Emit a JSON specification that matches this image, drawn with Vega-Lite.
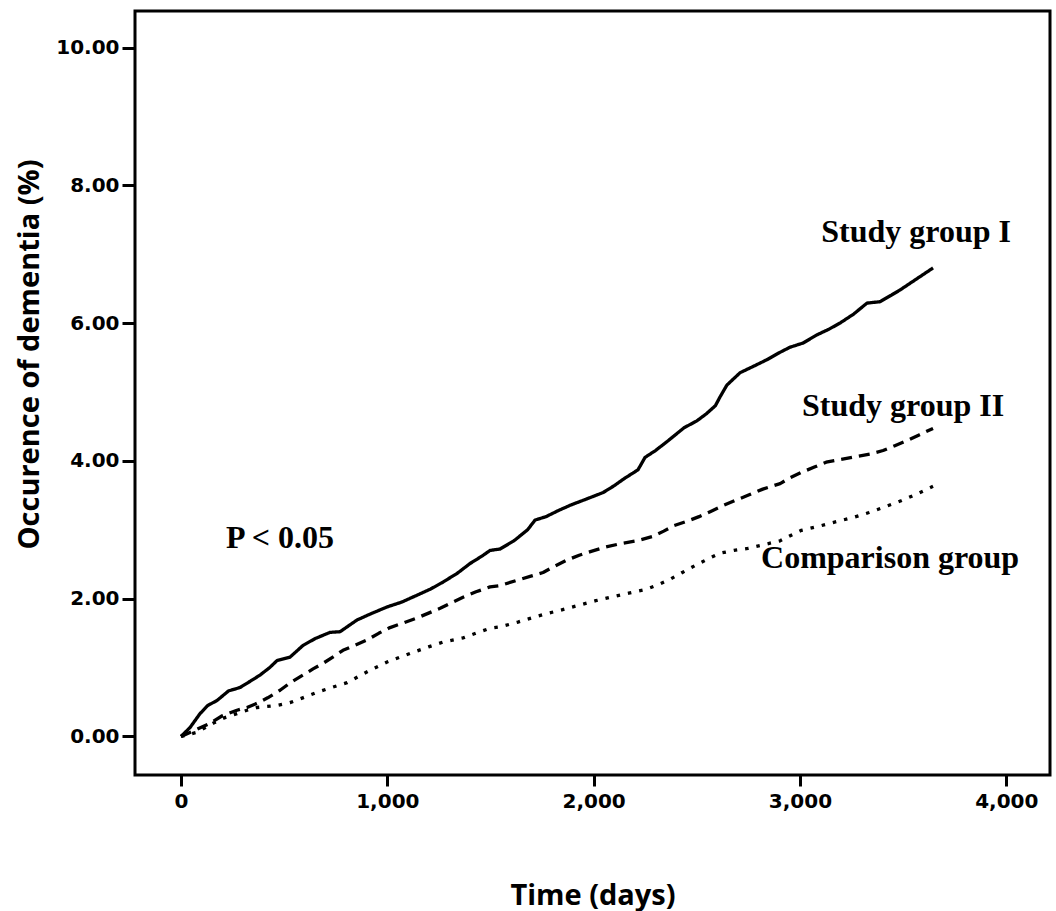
{
  "$schema": "https://vega.github.io/schema/vega-lite/v6.json",
  "width": 915,
  "height": 764,
  "autosize": {"type": "none"},
  "padding": {"left": 135, "top": 11, "right": 6, "bottom": 136},
  "background": "white",
  "config": {
    "view": {"stroke": "black", "strokeWidth": 3},
    "axis": {"grid": false, "domain": false, "tickColor": "black", "tickWidth": 3, "labelColor": "black", "titleColor": "black", "labelFont": "DejaVu Sans", "labelFontWeight": "bold", "labelFontSize": 20, "titleFont": "Open Sans", "titleFontWeight": "bold", "titleFontSize": 29}
  },
  "layer": [
    {
      "data": {"values": [
        {"group": "Study group I", "day": 0, "pct": 0},
        {"group": "Study group I", "day": 44, "pct": 0.13},
        {"group": "Study group I", "day": 92, "pct": 0.33},
        {"group": "Study group I", "day": 130, "pct": 0.45},
        {"group": "Study group I", "day": 174, "pct": 0.52},
        {"group": "Study group I", "day": 230, "pct": 0.66},
        {"group": "Study group I", "day": 286, "pct": 0.71},
        {"group": "Study group I", "day": 335, "pct": 0.8},
        {"group": "Study group I", "day": 383, "pct": 0.89},
        {"group": "Study group I", "day": 430, "pct": 1.0},
        {"group": "Study group I", "day": 465, "pct": 1.1},
        {"group": "Study group I", "day": 528, "pct": 1.15},
        {"group": "Study group I", "day": 591, "pct": 1.32},
        {"group": "Study group I", "day": 650, "pct": 1.42},
        {"group": "Study group I", "day": 722, "pct": 1.51},
        {"group": "Study group I", "day": 771, "pct": 1.52},
        {"group": "Study group I", "day": 853, "pct": 1.69},
        {"group": "Study group I", "day": 920, "pct": 1.78},
        {"group": "Study group I", "day": 999, "pct": 1.88},
        {"group": "Study group I", "day": 1070, "pct": 1.95},
        {"group": "Study group I", "day": 1144, "pct": 2.05},
        {"group": "Study group I", "day": 1210, "pct": 2.14},
        {"group": "Study group I", "day": 1270, "pct": 2.24},
        {"group": "Study group I", "day": 1340, "pct": 2.37},
        {"group": "Study group I", "day": 1401, "pct": 2.51},
        {"group": "Study group I", "day": 1460, "pct": 2.62},
        {"group": "Study group I", "day": 1498, "pct": 2.7},
        {"group": "Study group I", "day": 1546, "pct": 2.72},
        {"group": "Study group I", "day": 1614, "pct": 2.84},
        {"group": "Study group I", "day": 1680, "pct": 3.0},
        {"group": "Study group I", "day": 1716, "pct": 3.14},
        {"group": "Study group I", "day": 1769, "pct": 3.19},
        {"group": "Study group I", "day": 1830, "pct": 3.28},
        {"group": "Study group I", "day": 1890, "pct": 3.36},
        {"group": "Study group I", "day": 1960, "pct": 3.44},
        {"group": "Study group I", "day": 2046, "pct": 3.54},
        {"group": "Study group I", "day": 2100, "pct": 3.64},
        {"group": "Study group I", "day": 2147, "pct": 3.74},
        {"group": "Study group I", "day": 2215, "pct": 3.87},
        {"group": "Study group I", "day": 2249, "pct": 4.05},
        {"group": "Study group I", "day": 2300, "pct": 4.15},
        {"group": "Study group I", "day": 2356, "pct": 4.28},
        {"group": "Study group I", "day": 2438, "pct": 4.48},
        {"group": "Study group I", "day": 2500, "pct": 4.58},
        {"group": "Study group I", "day": 2545, "pct": 4.68},
        {"group": "Study group I", "day": 2590, "pct": 4.8},
        {"group": "Study group I", "day": 2613, "pct": 4.93},
        {"group": "Study group I", "day": 2646, "pct": 5.1},
        {"group": "Study group I", "day": 2710, "pct": 5.28},
        {"group": "Study group I", "day": 2780, "pct": 5.38},
        {"group": "Study group I", "day": 2841, "pct": 5.47},
        {"group": "Study group I", "day": 2900, "pct": 5.57},
        {"group": "Study group I", "day": 2952, "pct": 5.65},
        {"group": "Study group I", "day": 3015, "pct": 5.71},
        {"group": "Study group I", "day": 3083, "pct": 5.83},
        {"group": "Study group I", "day": 3140, "pct": 5.91},
        {"group": "Study group I", "day": 3194, "pct": 6.0},
        {"group": "Study group I", "day": 3260, "pct": 6.13},
        {"group": "Study group I", "day": 3325, "pct": 6.29},
        {"group": "Study group I", "day": 3388, "pct": 6.31},
        {"group": "Study group I", "day": 3440, "pct": 6.4},
        {"group": "Study group I", "day": 3485, "pct": 6.48},
        {"group": "Study group I", "day": 3560, "pct": 6.63},
        {"group": "Study group I", "day": 3645, "pct": 6.8},
        {"group": "Study group II", "day": 0, "pct": 0},
        {"group": "Study group II", "day": 60, "pct": 0.08},
        {"group": "Study group II", "day": 141, "pct": 0.19},
        {"group": "Study group II", "day": 200, "pct": 0.3},
        {"group": "Study group II", "day": 271, "pct": 0.38},
        {"group": "Study group II", "day": 320, "pct": 0.42},
        {"group": "Study group II", "day": 368, "pct": 0.48},
        {"group": "Study group II", "day": 420, "pct": 0.56},
        {"group": "Study group II", "day": 480, "pct": 0.67},
        {"group": "Study group II", "day": 530, "pct": 0.78},
        {"group": "Study group II", "day": 591, "pct": 0.89},
        {"group": "Study group II", "day": 640, "pct": 0.98},
        {"group": "Study group II", "day": 688, "pct": 1.06},
        {"group": "Study group II", "day": 740, "pct": 1.16},
        {"group": "Study group II", "day": 785, "pct": 1.25},
        {"group": "Study group II", "day": 840, "pct": 1.32},
        {"group": "Study group II", "day": 902, "pct": 1.4},
        {"group": "Study group II", "day": 960, "pct": 1.5},
        {"group": "Study group II", "day": 1013, "pct": 1.58},
        {"group": "Study group II", "day": 1080, "pct": 1.65},
        {"group": "Study group II", "day": 1144, "pct": 1.72},
        {"group": "Study group II", "day": 1200, "pct": 1.79},
        {"group": "Study group II", "day": 1256, "pct": 1.86},
        {"group": "Study group II", "day": 1310, "pct": 1.94},
        {"group": "Study group II", "day": 1367, "pct": 2.02},
        {"group": "Study group II", "day": 1430, "pct": 2.1},
        {"group": "Study group II", "day": 1498, "pct": 2.17},
        {"group": "Study group II", "day": 1546, "pct": 2.19},
        {"group": "Study group II", "day": 1633, "pct": 2.27},
        {"group": "Study group II", "day": 1700, "pct": 2.33},
        {"group": "Study group II", "day": 1755, "pct": 2.38},
        {"group": "Study group II", "day": 1810, "pct": 2.47},
        {"group": "Study group II", "day": 1871, "pct": 2.56},
        {"group": "Study group II", "day": 1930, "pct": 2.63},
        {"group": "Study group II", "day": 1992, "pct": 2.69},
        {"group": "Study group II", "day": 2060, "pct": 2.75},
        {"group": "Study group II", "day": 2133, "pct": 2.8},
        {"group": "Study group II", "day": 2210, "pct": 2.84},
        {"group": "Study group II", "day": 2283, "pct": 2.9},
        {"group": "Study group II", "day": 2340, "pct": 2.98},
        {"group": "Study group II", "day": 2390, "pct": 3.06},
        {"group": "Study group II", "day": 2450, "pct": 3.12},
        {"group": "Study group II", "day": 2511, "pct": 3.19},
        {"group": "Study group II", "day": 2570, "pct": 3.27},
        {"group": "Study group II", "day": 2627, "pct": 3.35},
        {"group": "Study group II", "day": 2690, "pct": 3.43},
        {"group": "Study group II", "day": 2748, "pct": 3.5},
        {"group": "Study group II", "day": 2820, "pct": 3.59},
        {"group": "Study group II", "day": 2904, "pct": 3.67},
        {"group": "Study group II", "day": 2950, "pct": 3.75},
        {"group": "Study group II", "day": 3005, "pct": 3.83},
        {"group": "Study group II", "day": 3070, "pct": 3.91},
        {"group": "Study group II", "day": 3127, "pct": 3.98},
        {"group": "Study group II", "day": 3200, "pct": 4.02},
        {"group": "Study group II", "day": 3267, "pct": 4.06},
        {"group": "Study group II", "day": 3340, "pct": 4.1},
        {"group": "Study group II", "day": 3403, "pct": 4.15},
        {"group": "Study group II", "day": 3460, "pct": 4.22},
        {"group": "Study group II", "day": 3524, "pct": 4.3},
        {"group": "Study group II", "day": 3580, "pct": 4.38},
        {"group": "Study group II", "day": 3645, "pct": 4.47},
        {"group": "Comparison group", "day": 0, "pct": 0},
        {"group": "Comparison group", "day": 78, "pct": 0.06},
        {"group": "Comparison group", "day": 155, "pct": 0.19},
        {"group": "Comparison group", "day": 210, "pct": 0.27},
        {"group": "Comparison group", "day": 271, "pct": 0.33},
        {"group": "Comparison group", "day": 320, "pct": 0.38},
        {"group": "Comparison group", "day": 368, "pct": 0.42},
        {"group": "Comparison group", "day": 465, "pct": 0.45},
        {"group": "Comparison group", "day": 528, "pct": 0.49},
        {"group": "Comparison group", "day": 590, "pct": 0.56},
        {"group": "Comparison group", "day": 659, "pct": 0.64},
        {"group": "Comparison group", "day": 730, "pct": 0.71},
        {"group": "Comparison group", "day": 805, "pct": 0.78},
        {"group": "Comparison group", "day": 860, "pct": 0.87},
        {"group": "Comparison group", "day": 916, "pct": 0.96},
        {"group": "Comparison group", "day": 999, "pct": 1.08},
        {"group": "Comparison group", "day": 1060, "pct": 1.15},
        {"group": "Comparison group", "day": 1125, "pct": 1.22},
        {"group": "Comparison group", "day": 1200, "pct": 1.3},
        {"group": "Comparison group", "day": 1270, "pct": 1.37},
        {"group": "Comparison group", "day": 1367, "pct": 1.43},
        {"group": "Comparison group", "day": 1430, "pct": 1.5},
        {"group": "Comparison group", "day": 1498, "pct": 1.57},
        {"group": "Comparison group", "day": 1546, "pct": 1.59},
        {"group": "Comparison group", "day": 1633, "pct": 1.66},
        {"group": "Comparison group", "day": 1700, "pct": 1.72},
        {"group": "Comparison group", "day": 1769, "pct": 1.78},
        {"group": "Comparison group", "day": 1850, "pct": 1.84},
        {"group": "Comparison group", "day": 1924, "pct": 1.9},
        {"group": "Comparison group", "day": 2010, "pct": 1.97},
        {"group": "Comparison group", "day": 2094, "pct": 2.03},
        {"group": "Comparison group", "day": 2170, "pct": 2.08},
        {"group": "Comparison group", "day": 2249, "pct": 2.13},
        {"group": "Comparison group", "day": 2310, "pct": 2.2},
        {"group": "Comparison group", "day": 2370, "pct": 2.28},
        {"group": "Comparison group", "day": 2430, "pct": 2.38},
        {"group": "Comparison group", "day": 2491, "pct": 2.48},
        {"group": "Comparison group", "day": 2550, "pct": 2.57},
        {"group": "Comparison group", "day": 2613, "pct": 2.66},
        {"group": "Comparison group", "day": 2680, "pct": 2.7},
        {"group": "Comparison group", "day": 2748, "pct": 2.73},
        {"group": "Comparison group", "day": 2820, "pct": 2.78},
        {"group": "Comparison group", "day": 2904, "pct": 2.84},
        {"group": "Comparison group", "day": 2950, "pct": 2.91},
        {"group": "Comparison group", "day": 3005, "pct": 2.99},
        {"group": "Comparison group", "day": 3090, "pct": 3.05},
        {"group": "Comparison group", "day": 3180, "pct": 3.12},
        {"group": "Comparison group", "day": 3260, "pct": 3.18},
        {"group": "Comparison group", "day": 3335, "pct": 3.25},
        {"group": "Comparison group", "day": 3410, "pct": 3.33},
        {"group": "Comparison group", "day": 3490, "pct": 3.42},
        {"group": "Comparison group", "day": 3560, "pct": 3.51},
        {"group": "Comparison group", "day": 3645, "pct": 3.63}
      ]},
      "mark": {"type": "line", "color": "black", "strokeWidth": 3.3, "strokeJoin": "round"},
      "encoding": {
        "x": {"field": "day", "type": "quantitative", "scale": {"domain": [-223, 4212], "nice": false, "zero": false},
          "axis": {"values": [0, 1000, 2000, 3000, 4000], "format": ",d", "tickSize": 11, "labelPadding": 5, "title": "Time (days)", "titleY": 120, "titleBaseline": "middle"}},
        "y": {"field": "pct", "type": "quantitative", "scale": {"domain": [-0.56, 10.53], "nice": false, "zero": false},
          "axis": {"values": [0, 2, 4, 6, 8, 10], "format": ".2f", "tickSize": 13, "labelPadding": 3, "title": "Occurence of dementia (%)", "titleX": -106, "titleY": 343, "titleAngle": 270, "titleBaseline": "middle", "titleAlign": "center"}},
        "detail": {"field": "group"},
        "strokeDash": {"field": "group", "type": "nominal", "legend": null,
          "scale": {"domain": ["Study group I", "Study group II", "Comparison group"], "range": [[1, 0], [11, 7], [3.5, 8]]}}
      }
    },
    {
      "data": {"values": [
        {"label": "Study group I", "day": 3563, "pct": 7.18},
        {"label": "Study group II", "day": 3500, "pct": 4.65},
        {"label": "Comparison group", "day": 3437, "pct": 2.44},
        {"label": "P < 0.05", "day": 480, "pct": 2.73}
      ]},
      "mark": {"type": "text", "font": "Liberation Serif", "fontWeight": "bold", "fontSize": 32, "color": "black", "align": "center", "baseline": "alphabetic"},
      "encoding": {
        "x": {"field": "day", "type": "quantitative"},
        "y": {"field": "pct", "type": "quantitative"},
        "text": {"field": "label"}
      }
    }
  ]
}
